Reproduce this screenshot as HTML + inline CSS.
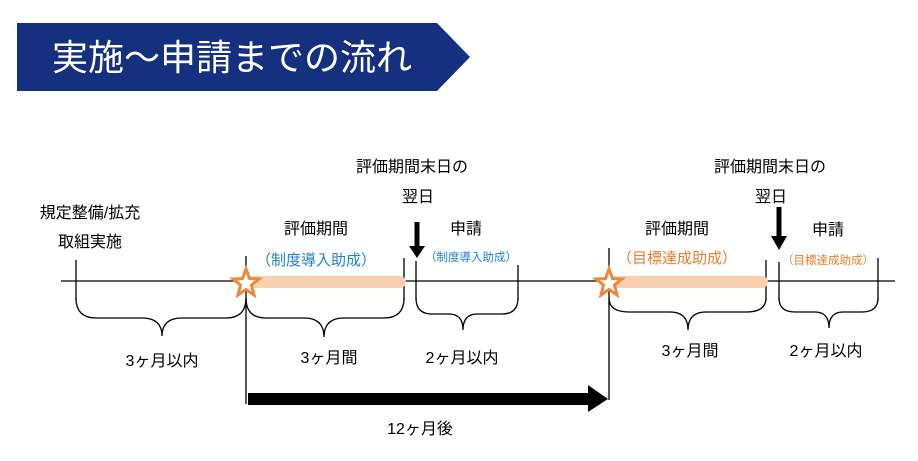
<!DOCTYPE html>
<html><head><meta charset="utf-8"><style>
html,body{margin:0;padding:0;background:#fff;}
svg{display:block;font-family:"Liberation Sans","Noto Sans CJK JP",sans-serif;}
</style></head><body>
<svg width="918" height="461" viewBox="0 0 918 461" xmlns="http://www.w3.org/2000/svg">
<polygon points="17,23 437,23 470,57 437,91 17,91" fill="#14307f"/>
<text x="52" y="70" font-size="36" fill="#fff">実施～申請までの流れ</text>

<g stroke="#000" stroke-width="1.3" fill="none">
<line x1="61" y1="281" x2="895" y2="281"/>
<line x1="76" y1="260" x2="76" y2="300"/>
<line x1="246" y1="256" x2="246" y2="404"/>
<line x1="404" y1="258" x2="404" y2="300"/>
<line x1="416" y1="261" x2="416" y2="300"/>
<line x1="518" y1="265" x2="518" y2="300"/>
<line x1="609" y1="248" x2="609" y2="400"/>
<line x1="766" y1="260" x2="766" y2="300"/>
<line x1="779" y1="262" x2="779" y2="300"/>
<line x1="878" y1="258" x2="878" y2="300"/>
<path d="M76,298 Q76,318 96,318 L142,318 Q162,318 162,336 Q162,318 182,318 L226,318 Q246,318 246,298"/>
<path d="M246,298 Q246,318 266,318 L304,318 Q324,318 324,337 Q324,318 344,318 L384,318 Q404,318 404,298"/>
<path d="M416,298 Q416,314 432,314 L449,314 Q463,314 463,330 Q463,314 477,314 L502,314 Q518,314 518,298"/>
<path d="M609,298 Q609,312 629,312 L670,312 Q688,312 688,330 Q688,312 706,312 L746,312 Q766,312 766,298"/>
<path d="M779,298 Q779,312 795,312 L815,312 Q829,312 829,328 Q829,312 843,312 L862,312 Q878,312 878,298"/>
</g>

<line x1="252" y1="282" x2="400" y2="282" stroke="#f9d0b0" stroke-width="12" stroke-linecap="round"/>
<line x1="616" y1="282" x2="762" y2="282" stroke="#f9d0b0" stroke-width="12" stroke-linecap="round"/>

<g fill="#fff" stroke="#f0883a" stroke-width="3" stroke-linejoin="miter">
<polygon points="246,269 249.5,278.5 259,279 251.5,285 254,295 246,289.5 238,295 240.5,285 233,279 242.5,278.5"/>
<polygon points="609,269 612.5,278.5 622,279 614.5,285 617,295 609,289.5 601,295 603.5,285 596,279 605.5,278.5"/>
</g>

<g fill="#000">
<rect x="414.5" y="222" width="5" height="26"/><polygon points="409,246 425,246 417,258"/>
<rect x="776.5" y="207" width="5" height="31"/><polygon points="771,236 787,236 779,250"/>
<rect x="248" y="393" width="342" height="12"/><polygon points="588,385 608,399 588,412"/>
</g>

<g font-size="16" fill="#000" text-anchor="middle">
<text x="412" y="172">評価期間末日の</text>
<text x="418" y="202">翌日</text>
<text x="770" y="172">評価期間末日の</text>
<text x="771" y="202">翌日</text>
<text x="90" y="218">規定整備/拡充</text>
<text x="90" y="247">取組実施</text>
<text x="316" y="234">評価期間</text>
<text x="466" y="234">申請</text>
<text x="677" y="234">評価期間</text>
<text x="828" y="235">申請</text>
<text x="162" y="366">3ヶ月以内</text>
<text x="329" y="363">3ヶ月間</text>
<text x="462" y="363">2ヶ月以内</text>
<text x="690" y="356">3ヶ月間</text>
<text x="826" y="356">2ヶ月以内</text>
<text x="420" y="434">12ヶ月後</text>
</g>
<text x="316" y="265" font-size="15" fill="#1f7fd0" text-anchor="middle">（制度導入助成）</text>
<text x="471" y="261" font-size="11.5" fill="#1f7fd0" text-anchor="middle">（制度導入助成）</text>
<text x="677" y="263" font-size="15" fill="#e8802a" text-anchor="middle">（目標達成助成）</text>
<text x="828" y="264" font-size="11.5" fill="#e8802a" text-anchor="middle">（目標達成助成）</text>
</svg>
</body></html>
